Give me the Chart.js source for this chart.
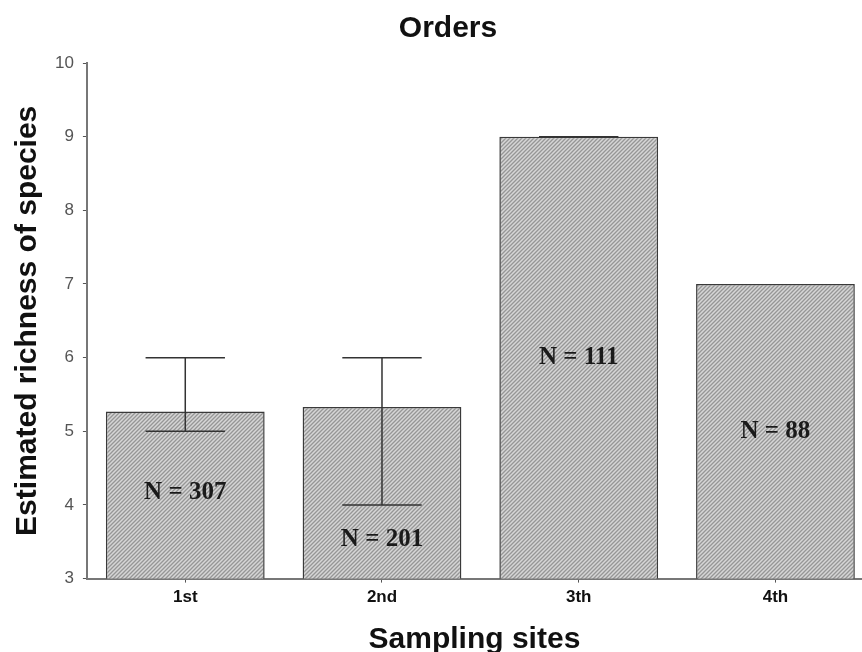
<!DOCTYPE html>
<html>
<head>
<meta charset="utf-8">
<script src="https://cdn.jsdelivr.net/npm/chart.js@4"></script>
<style>
  html, body { margin: 0; padding: 0; background: #fff; }
  #wrap { width: 862px; height: 652px; }
</style>
</head>
<body>
<div id="wrap"><canvas id="ordersChart" width="862" height="652"></canvas></div>
<script>
// --- data ---
const sites = ['1st', '2nd', '3th', '4th'];
const richness = [5.27, 5.33, 9.0, 7.0];
const errLow = [5, 4, 9, null];
const errHigh = [6, 6, 9, null];
const sampleSizes = ['N = 307', 'N = 201', 'N = 111', 'N = 88'];
const labelAt = [4.17, 3.53, 6.0, 5.0];   // height (y units) of the N labels
const yTicks = [3, 4, 5, 6, 7, 8, 9, 10];

const sans = "'Liberation Sans', Arial, sans-serif";

// diagonal hatch like the original
function makeHatch() {
    const p = document.createElement('canvas');
    p.width = 4; p.height = 4;
    const c = p.getContext('2d');
    c.fillStyle = '#d6d6d6';
    c.fillRect(0, 0, 4, 4);
    c.strokeStyle = '#969696';
    c.lineWidth = 1.3;
    c.beginPath();
    c.moveTo(-1, 5); c.lineTo(5, -1);
    c.moveTo(-1, 1); c.lineTo(1, -1);
    c.moveTo(3, 5); c.lineTo(5, 3);
    c.stroke();
    return c.createPattern(p, 'repeat');
}

// error bars + N labels + title
const extras = {
    id: 'extras',
    afterDatasetsDraw(chart) {
        const ctx = chart.ctx;
        const xs = chart.scales.x, ys = chart.scales.y;
        const bar = chart.getDatasetMeta(0).data[0];
        const capHalf = bar.width * 0.25;
        ctx.save();
        ctx.strokeStyle = '#333';
        ctx.lineWidth = 1.5;
        sites.forEach((s, i) => {
            if (errLow[i] === null) return;
            const x = xs.getPixelForValue(i + 1);
            const lo = ys.getPixelForValue(errLow[i]);
            const hi = ys.getPixelForValue(errHigh[i]);
            ctx.beginPath();
            ctx.moveTo(x, lo); ctx.lineTo(x, hi);
            ctx.moveTo(x - capHalf, lo); ctx.lineTo(x + capHalf, lo);
            ctx.moveTo(x - capHalf, hi); ctx.lineTo(x + capHalf, hi);
            ctx.stroke();
        });
        ctx.fillStyle = '#1a1a1a';
        ctx.font = "bold 25px 'Liberation Serif', 'Times New Roman', serif";
        ctx.textAlign = 'center';
        ctx.textBaseline = 'middle';
        sites.forEach((s, i) => {
            ctx.fillText(sampleSizes[i], xs.getPixelForValue(i + 1), ys.getPixelForValue(labelAt[i]));
        });
        ctx.fillStyle = '#111';
        ctx.font = 'bold 30px ' + sans;
        ctx.textBaseline = 'alphabetic';
        ctx.fillText('Orders', 448, 37);
        ctx.restore();
    }
};

new Chart(document.getElementById('ordersChart').getContext('2d'), {
    type: 'bar',
    data: {
        datasets: [{
            data: richness.map((v, i) => ({ x: i + 1, y: v })),
            backgroundColor: makeHatch(),
            borderColor: '#3a3a3a',
            borderWidth: 1.5,
            categoryPercentage: 1,
            barPercentage: 0.807
        }]
    },
    options: {
        responsive: false,
        animation: false,
        layout: { padding: { top: 63, right: 0, left: 10, bottom: 0 } },
        plugins: { legend: { display: false }, tooltip: { enabled: false }, title: { display: false } },
        scales: {
            x: {
                type: 'linear',
                offset: false,
                min: 0.5,
                max: 4.44,
                afterBuildTicks: scale => { scale.ticks = sites.map((s, i) => ({ value: i + 1 })); },
                ticks: {
                    callback: v => sites[v - 1],
                    color: '#111',
                    font: { family: sans, size: 17, weight: 'bold' },
                    padding: 5,
                    maxRotation: 0
                },
                grid: { display: true, offset: false, drawOnChartArea: false, tickLength: 4, color: '#555' },
                border: { color: '#777', width: 2 },
                title: {
                    display: true,
                    text: 'Sampling sites',
                    color: '#111',
                    font: { family: sans, size: 30, weight: 'bold', lineHeight: 0.8 },
                    padding: { top: 15, bottom: 0 }
                }
            },
            y: {
                min: 3,
                max: 10,
                afterBuildTicks: scale => { scale.ticks = yTicks.map(v => ({ value: v })); },
                ticks: {
                    color: '#555',
                    font: { family: sans, size: 17 },
                    padding: 9
                },
                grid: { display: true, drawOnChartArea: false, tickLength: 4, color: '#555' },
                border: { color: '#777', width: 2 },
                title: {
                    display: true,
                    text: 'Estimated richness of species',
                    color: '#111',
                    font: { family: sans, size: 30, weight: 'bold' },
                    padding: { top: 0, bottom: 0 }
                }
            }
        }
    },
    plugins: [extras]
});
</script>
</body>
</html>
